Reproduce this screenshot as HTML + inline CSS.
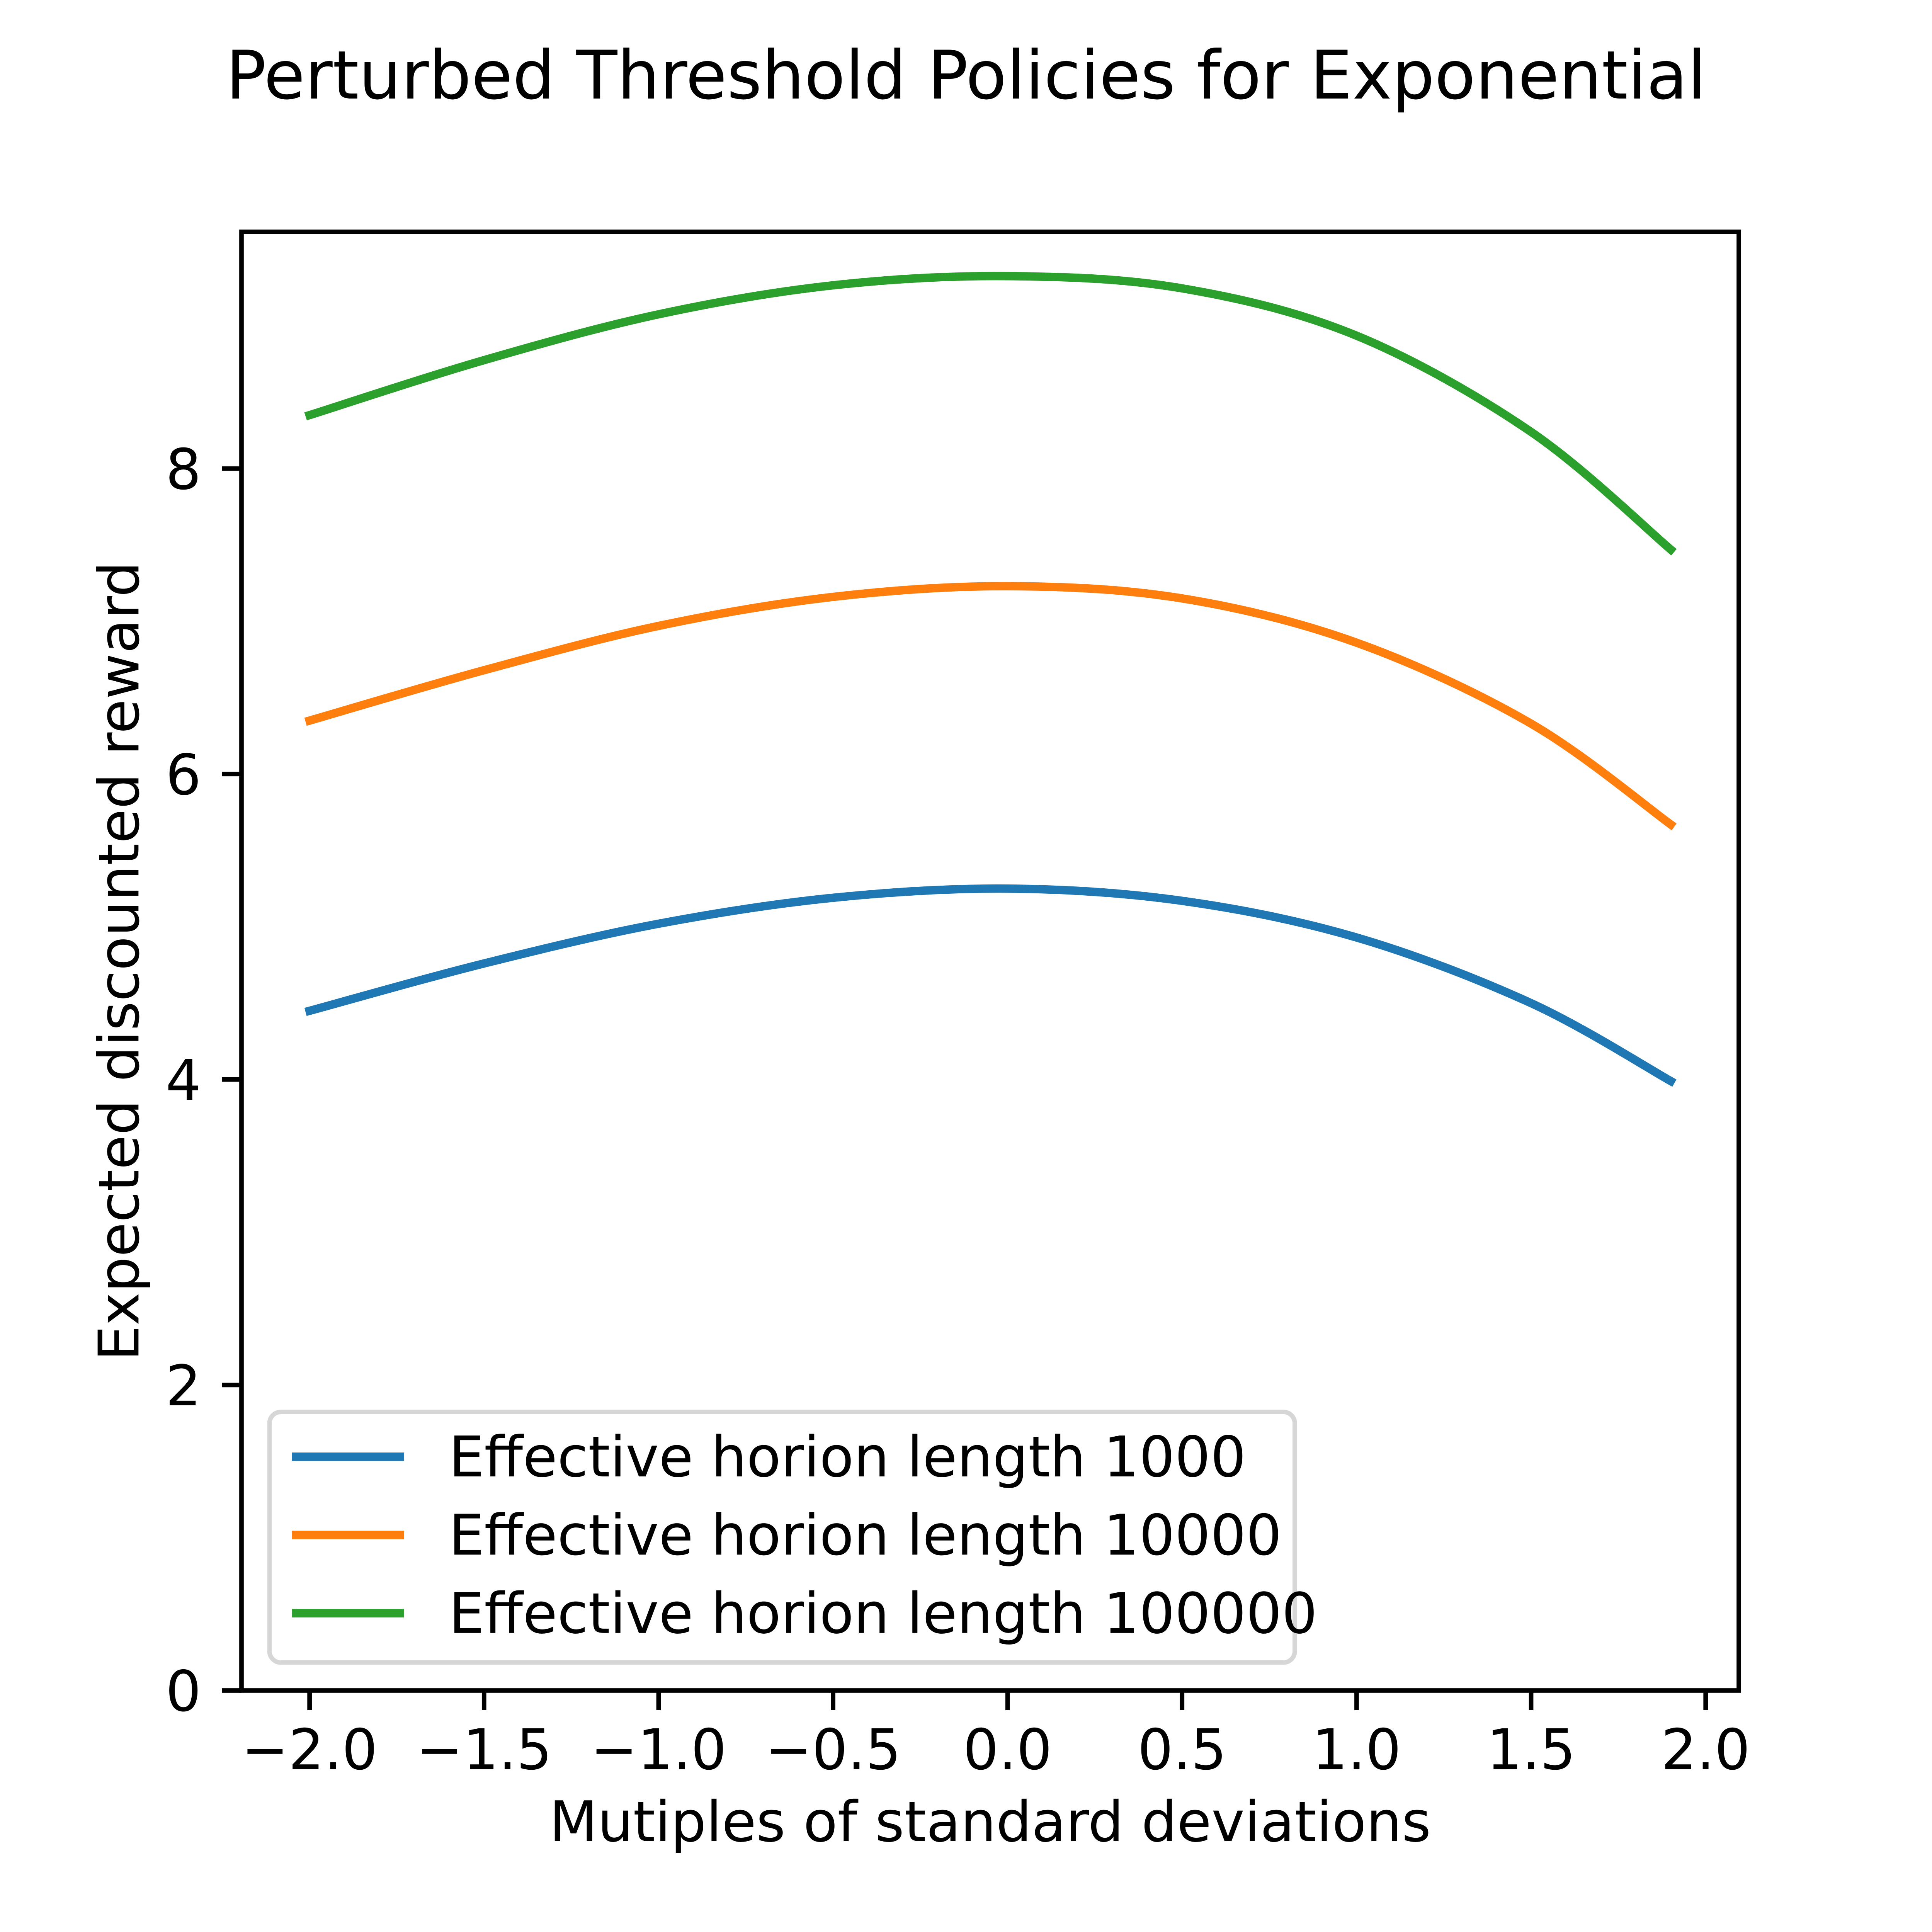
<!DOCTYPE html>
<html><head><meta charset="utf-8"><style>
html,body{margin:0;padding:0;background:#fff;overflow:hidden;width:100vw;height:100vh;}
svg{display:block;width:100vw;height:100vh;}
text{font-family:"DejaVu Sans","Liberation Sans",sans-serif;fill:#000;}
</style></head><body>
<svg id="chart" viewBox="0 0 6000 6000" preserveAspectRatio="xMidYMid meet" xmlns="http://www.w3.org/2000/svg">
<rect x="0" y="0" width="6000" height="6000" fill="#fff"/>
<text x="3000" y="306" font-size="208" text-anchor="middle">Perturbed Threshold Policies for Exponential</text>
<g id="plot"></g>
<text x="3075" y="5718" font-size="174" text-anchor="middle">Mutiples of standard deviations</text>
<text x="0" y="0" font-size="174" text-anchor="middle" transform="translate(430,2985) rotate(-90)">Expected discounted reward</text>
</svg>
<script>
const xs = [-2.0, -1.5, -1.0, -0.5, 0.0, 0.5, 1.0, 1.5, 1.9];
const series1000 = [4.45, 4.76, 5.02, 5.19, 5.25, 5.17, 4.93, 4.50, 3.99];
const series10000 = [6.35, 6.68, 6.97, 7.16, 7.23, 7.15, 6.86, 6.33, 5.67];
const series100000 = [8.35, 8.71, 9.01, 9.20, 9.26, 9.18, 8.87, 8.24, 7.47];
const seriesLabels = ["Effective horion length 1000", "Effective horion length 10000", "Effective horion length 100000"];
const xTicks = [-2.0, -1.5, -1.0, -0.5, 0.0, 0.5, 1.0, 1.5, 2.0];
const xTickLabels = ["\u22122.0", "\u22121.5", "\u22121.0", "\u22120.5", "0.0", "0.5", "1.0", "1.5", "2.0"];
const yTicks = [0, 2, 4, 6, 8];
const yTickLabels = ["0", "2", "4", "6", "8"];

const L = 750, R = 5400, T = 720, B = 5250;
const xMin = -2.195, xMax = 2.095, yMin = 0, yMax = 9.55;
const colors = ["#1f77b4", "#ff7f0e", "#2ca02c"];
const NS = "http://www.w3.org/2000/svg";
const sx = v => L + (v - xMin) / (xMax - xMin) * (R - L);
const sy = v => B - (v - yMin) / (yMax - yMin) * (B - T);
const plot = document.getElementById('plot');
function mk(tag, attrs, parent) {
  const e = document.createElementNS(NS, tag);
  for (const k in attrs) e.setAttribute(k, attrs[k]);
  (parent || plot).appendChild(e);
  return e;
}
function curvePath(xv, yv) {
  const p = xv.map((x, i) => [sx(x), sy(yv[i])]);
  let d = "M" + p[0][0] + "," + p[0][1];
  for (let i = 0; i < p.length - 1; i++) {
    const p0 = p[i - 1] || p[i], p1 = p[i], p2 = p[i + 1], p3 = p[i + 2] || p[i + 1];
    const c1 = [p1[0] + (p2[0] - p0[0]) / 6, p1[1] + (p2[1] - p0[1]) / 6];
    const c2 = [p2[0] - (p3[0] - p1[0]) / 6, p2[1] - (p3[1] - p1[1]) / 6];
    d += " C" + c1[0] + "," + c1[1] + " " + c2[0] + "," + c2[1] + " " + p2[0] + "," + p2[1];
  }
  return d;
}
const allSeries = [series1000, series10000, series100000];
const names = ["line-horizon-1000", "line-horizon-10000", "line-horizon-100000"];
allSeries.forEach((s, i) => {
  const e = mk('path', {d: curvePath(xs, s), fill: 'none', stroke: colors[i], 'stroke-width': 26, 'stroke-linecap': 'square', 'stroke-linejoin': 'round'});
  
  
});
xTicks.forEach((t, i) => {
  const x = sx(t);
  const tk = mk('line', {x1: x, y1: B, x2: x, y2: B + 61, stroke: '#000', 'stroke-width': 14});
  
  
  const tx = mk('text', {x: x, y: 5494, 'font-size': 174, 'text-anchor': 'middle'});
  tx.textContent = xTickLabels[i];
  
  
});
yTicks.forEach((t, i) => {
  const y = sy(t);
  const tk = mk('line', {x1: L - 61, y1: y, x2: L, y2: y, stroke: '#000', 'stroke-width': 14});
  
  
  const tx = mk('text', {x: 625, y: y + 63, 'font-size': 174, 'text-anchor': 'end'});
  tx.textContent = yTickLabels[i];
  
  
});
const fr = mk('rect', {x: L, y: T, width: R - L, height: B - T, fill: 'none', stroke: '#000', 'stroke-width': 14});


const lg = mk('g', {});


const lb = mk('rect', {x: 837, y: 4385, width: 3184, height: 778, rx: 35, fill: '#fff', 'fill-opacity': 0.8, stroke: '#d6d6d6', 'stroke-width': 14}, lg);


const ly = [4524, 4767, 5010];
seriesLabels.forEach((s, i) => {
  const ln = mk('line', {x1: 907, y1: ly[i], x2: 1255, y2: ly[i], stroke: colors[i], 'stroke-width': 26}, lg);
  
  
  const tx = mk('text', {x: 1394, y: ly[i] + 61, 'font-size': 174}, lg);
  tx.textContent = s;
  
  
});
</script>
</body></html>
